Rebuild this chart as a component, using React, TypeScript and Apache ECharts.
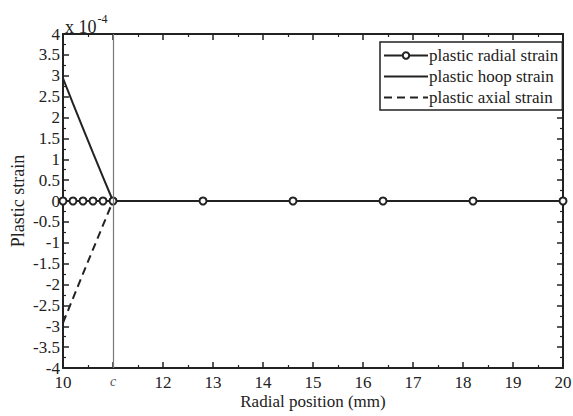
import React, { useEffect, useRef } from "react";
import * as echarts from "echarts";

const radialPositions = [10, 10.2, 10.4, 10.6, 10.8, 11, 12.8, 14.6, 16.4, 18.2, 20];
const radialStrain = [0, 0, 0, 0, 0, 0, 0, 0, 0, 0, 0];
const hoopStrain = [2.94, 2.33, 1.74, 1.15, 0.57, 0, 0, 0, 0, 0, 0];
const axialStrain = [-2.92, -2.33, -1.74, -1.16, -0.58, 0, 0, 0, 0, 0, 0];
const cPosition = 11;
const seriesNames = ["plastic radial strain", "plastic hoop strain", "plastic axial strain"];

const FONT = "Liberation Serif";
const INK = "#222";

export default function App() {
  const ref = useRef<HTMLDivElement>(null);
  useEffect(() => {
    if (!ref.current) return;
    const chart = echarts.init(ref.current, undefined, { renderer: "svg" });
    const pts = (vals: number[]) => radialPositions.map((x, i) => [x, vals[i]]);
    const axisCommon = {
      type: "value" as const,
      axisLine: { show: true, onZero: false, lineStyle: { color: INK, width: 2 } },
      axisTick: { show: true, inside: true, length: 6, lineStyle: { color: INK, width: 1.5 } },
      minorTick: { show: true, splitNumber: 2, length: 3, lineStyle: { color: INK, width: 1.2 } },
      splitLine: { show: false },
    };
    const hiddenSymbol = { opacity: 0, color: "transparent", borderWidth: 0 };
    chart.setOption({
      animation: false,
      backgroundColor: "#fff",
      textStyle: { fontFamily: FONT },
      title: {
        text: "{a|x 10}{b|-4}",
        left: 60,
        top: 5,
        textStyle: {
          fontWeight: "normal",
          rich: {
            a: { fontFamily: FONT, fontSize: 18, fontWeight: "normal", color: INK, padding: [8, 0, 0, 0] },
            b: { fontFamily: FONT, fontSize: 12, fontWeight: "normal", color: INK, padding: [0, 0, 8, 1] },
          },
        },
      },
      grid: { left: 63, right: 10, top: 34, bottom: 48, containLabel: false, outerBoundsMode: "none" },
      legend: {
        orient: "vertical",
        left: 380,
        top: 42,
        data: [
          { name: seriesNames[0] },
          { name: seriesNames[1], itemStyle: hiddenSymbol },
          { name: seriesNames[2], itemStyle: hiddenSymbol },
        ],
        borderColor: INK,
        borderWidth: 1.5,
        backgroundColor: "#fff",
        padding: [5, 4, 4, 3],
        itemWidth: 44,
        itemHeight: 8,
        itemGap: 4,
        textStyle: { fontFamily: FONT, fontSize: 17, color: INK, padding: [0, 0, 0, -4] },
      },
      xAxis: [
        {
          ...axisCommon,
          min: 10,
          max: 20,
          interval: 1,
          axisLabel: {
            fontFamily: FONT,
            fontSize: 17,
            color: INK,
            margin: 6,
            formatter: (v: number) => (v === cPosition ? "{c|c}" : String(v)),
            rich: { c: { fontFamily: FONT, fontStyle: "italic", fontSize: 14, color: "#555" } },
          },
          name: "Radial position (mm)",
          nameLocation: "middle",
          nameGap: 25,
          nameMoveOverlap: false,
          nameTextStyle: { fontFamily: FONT, fontSize: 17, color: INK },
        },
        {
          ...axisCommon,
          position: "top",
          min: 10,
          max: 20,
          interval: 1,
          axisLabel: { show: false },
        },
      ],
      yAxis: [
        {
          ...axisCommon,
          min: -4,
          max: 4,
          interval: 0.5,
          axisLabel: { fontFamily: FONT, fontSize: 17, color: INK, margin: 3 },
          name: "Plastic strain",
          nameLocation: "middle",
          nameGap: 36,
          nameMoveOverlap: false,
          nameTextStyle: { fontFamily: FONT, fontSize: 18, color: INK },
        },
        {
          ...axisCommon,
          position: "right",
          min: -4,
          max: 4,
          interval: 0.5,
          axisLabel: { show: false },
        },
      ],
      series: [
        {
          name: seriesNames[1],
          type: "line",
          data: pts(hoopStrain),
          showSymbol: false,
          symbol: "none",
          lineStyle: { color: INK, width: 2 },
          itemStyle: { color: INK },
          z: 2,
        },
        {
          name: seriesNames[2],
          type: "line",
          data: pts(axialStrain),
          showSymbol: false,
          symbol: "none",
          lineStyle: { color: INK, width: 2, type: [8, 5] },
          itemStyle: { color: INK },
          z: 2,
        },
        {
          name: seriesNames[0],
          type: "line",
          data: pts(radialStrain),
          symbol: "emptyCircle",
          symbolSize: 7,
          lineStyle: { color: INK, width: 2 },
          itemStyle: { color: INK, borderWidth: 1.6 },
          z: 3,
          markLine: {
            silent: true,
            symbol: "none",
            label: { show: false },
            lineStyle: { color: "#777", width: 1.2, type: "solid" },
            data: [{ xAxis: cPosition }],
          },
        },
      ],
    });
    return () => chart.dispose();
  }, []);
  return (
    <div
      ref={ref}
      style={{ position: "fixed", left: 0, top: 0, width: 573, height: 416 }}
    />
  );
}
